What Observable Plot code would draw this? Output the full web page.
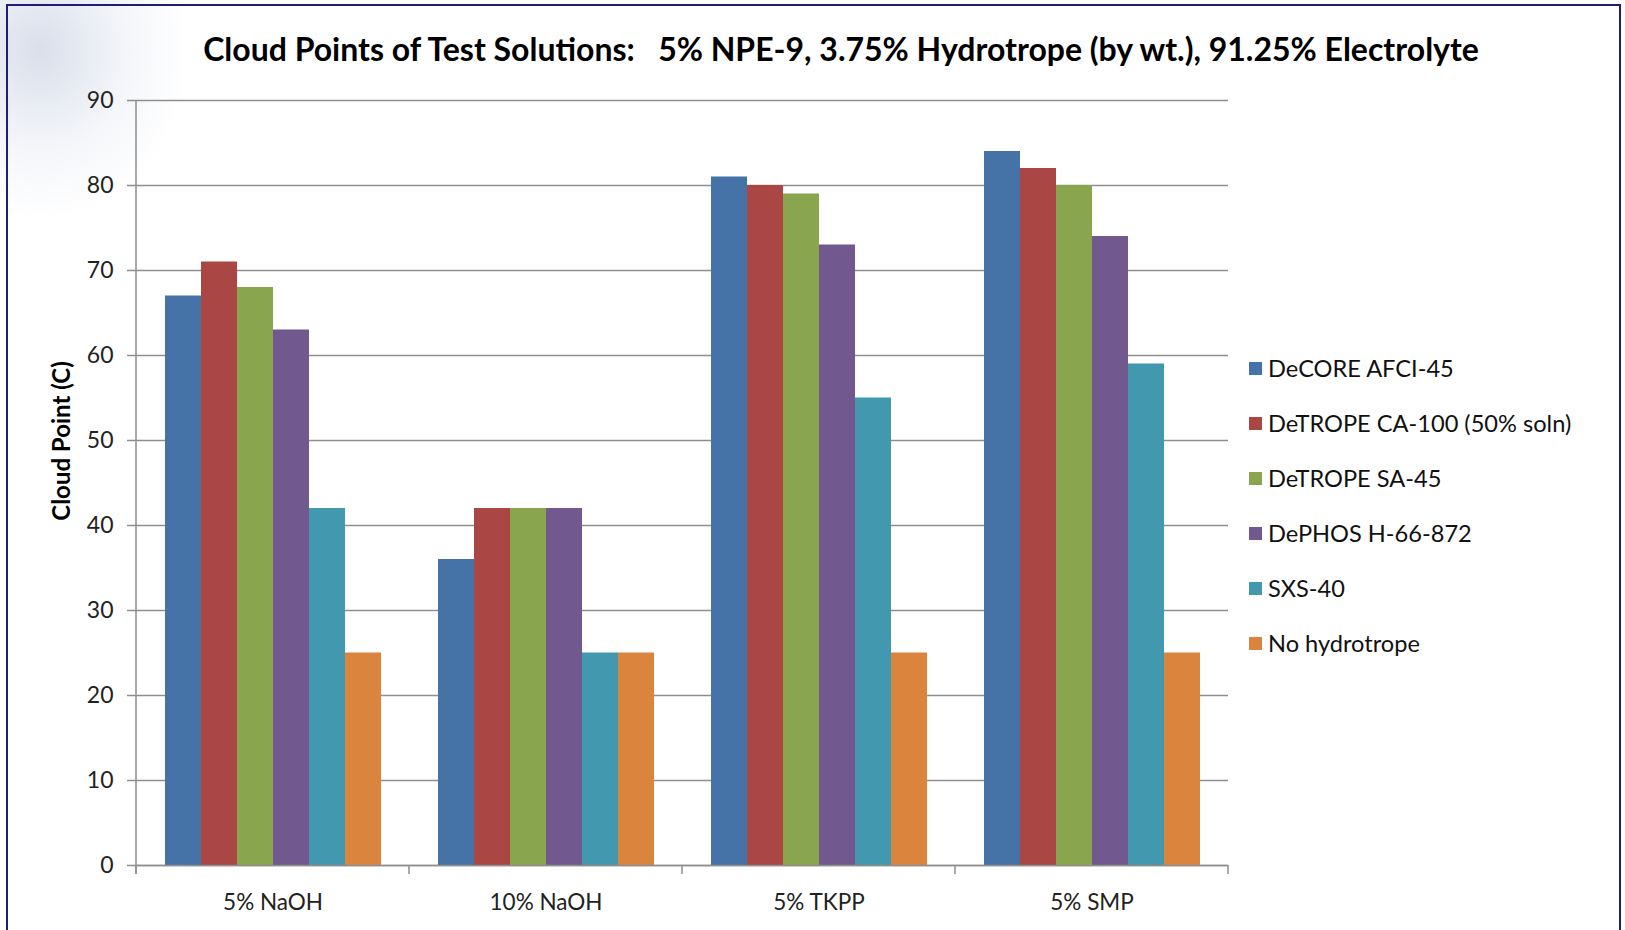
<!DOCTYPE html>
<html><head><meta charset="utf-8">
<script src="https://cdn.jsdelivr.net/npm/d3@7"></script>
<script src="https://cdn.jsdelivr.net/npm/@observablehq/plot@0.6"></script>
<style>
body{margin:0;background:#fff;}
#wrap{position:relative;width:1625px;height:930px;overflow:hidden;font-family:Lato,"Open Sans",sans-serif;color:#111;}
#deco{position:absolute;left:0;top:0;width:260px;height:260px;
  background:radial-gradient(ellipse 150px 170px at 40px 50px, rgba(205,212,228,0.75), rgba(225,230,240,0.35) 60%, rgba(255,255,255,0) 100%);}
#frame{position:absolute;left:6px;top:4px;width:1615px;height:960px;border:2.5px solid #1e1e78;box-sizing:border-box;}
#title{position:absolute;left:41px;width:1600px;top:31px;height:36px;line-height:36px;text-align:center;font-weight:700;font-size:32px;white-space:pre;color:#000;}
#ylab{position:absolute;left:60px;top:441px;transform:translate(-50%,-50%) rotate(-90deg);font-weight:700;font-size:24px;white-space:pre;color:#000;}
#chart{position:absolute;left:0;top:0;}
.leg{position:absolute;left:1249px;height:26px;line-height:26px;font-size:23.6px;white-space:pre;color:#111;}
.leg span.sw{position:absolute;left:0;top:7px;width:13px;height:13px;}
.leg span.tx{position:absolute;left:19px;top:0;}
</style>
</head><body>
<div id="wrap">
  <div id="deco"></div>
  <div id="chart"></div>
  <div id="frame"></div>
  <div id="title"></div>
  <div id="ylab"></div>
  <div id="legend"></div>
</div>
<script>
const titleText = "Cloud Points of Test Solutions:   5% NPE-9, 3.75% Hydrotrope (by wt.), 91.25% Electrolyte";
const yLabel = "Cloud Point (C)";
const categories = ["5% NaOH", "10% NaOH", "5% TKPP", "5% SMP"];
const seriesNames = ["DeCORE AFCI-45", "DeTROPE CA-100 (50% soln)", "DeTROPE SA-45", "DePHOS H-66-872", "SXS-40", "No hydrotrope"];
const decoreAFCI45 = [67, 36, 81, 84];
const detropeCA100 = [71, 42, 80, 82];
const detropeSA45  = [68, 42, 79, 80];
const dephosH66872 = [63, 42, 73, 74];
const sxs40        = [42, 25, 55, 59];
const noHydrotrope = [25, 25, 25, 25];
const seriesColors = ["#4572A7", "#AA4643", "#89A54E", "#71588F", "#4198AF", "#DB843D"];
const yTicks = [0, 10, 20, 30, 40, 50, 60, 70, 80, 90];

const seriesValues = [decoreAFCI45, detropeCA100, detropeSA45, dephosH66872, sxs40, noHydrotrope];
const rows = [];
categories.forEach((c, i) => seriesNames.forEach((s, j) => rows.push({cat: c, series: s, value: seriesValues[j][i]})));

document.getElementById("title").textContent = titleText;
document.getElementById("ylab").textContent = yLabel;

const gridColor = "#8e8e8e";
const plot = Plot.plot({
  width: 1625, height: 930,
  marginLeft: 135, marginRight: 396, marginTop: 100, marginBottom: 65,
  style: {background: "transparent", fontFamily: "Lato, 'Open Sans', sans-serif"},
  fx: {domain: categories, padding: 0, label: null},
  x: {domain: seriesNames, paddingInner: 0, paddingOuter: 0.74, axis: null},
  y: {domain: [0, 90], label: null},
  color: {domain: seriesNames, range: seriesColors},
  marks: [
    Plot.gridY(yTicks, {stroke: gridColor, strokeOpacity: 1, strokeWidth: 1.5}),
    Plot.barY(rows, {fx: "cat", x: "series", y: "value", fill: "series"}),
    Plot.axisY(yTicks, {tickSize: 9, tickPadding: 14, fontSize: 23, stroke: gridColor, strokeWidth: 1.5, fill: "#222", label: null}),
    Plot.axisFx({anchor: "bottom", tickSize: 0, tickPadding: 29, fontSize: 22.5, fill: "#222", label: null}),
    Plot.ruleY([0], {stroke: gridColor, strokeWidth: 1.5})
  ]
});
document.getElementById("chart").appendChild(plot);

// axis line and category boundary ticks, placed through Plot's own scales
const fx = plot.scale("fx"), y = plot.scale("y");
const svg = d3.select(plot);
const x0 = fx.apply(categories[0]);
const yTop = y.apply(90), yBase = y.apply(0);
const g = svg.append("g").attr("stroke", gridColor).attr("stroke-width", 1.5);
g.append("line").attr("x1", x0).attr("x2", x0).attr("y1", yTop).attr("y2", yBase + 9);
const bounds = categories.map(c => fx.apply(c)).concat([fx.apply(categories[categories.length - 1]) + fx.bandwidth]);
bounds.forEach(b => g.append("line").attr("x1", b).attr("x2", b).attr("y1", yBase).attr("y2", yBase + 9));

// legend
const legend = document.getElementById("legend");
seriesNames.forEach((s, i) => {
  const d = document.createElement("div");
  d.className = "leg";
  d.style.top = (355 + i * 55) + "px";
  const sw = document.createElement("span"); sw.className = "sw"; sw.style.background = seriesColors[i];
  const tx = document.createElement("span"); tx.className = "tx"; tx.textContent = s;
  d.appendChild(sw); d.appendChild(tx); legend.appendChild(d);
});
</script>
</body></html>
